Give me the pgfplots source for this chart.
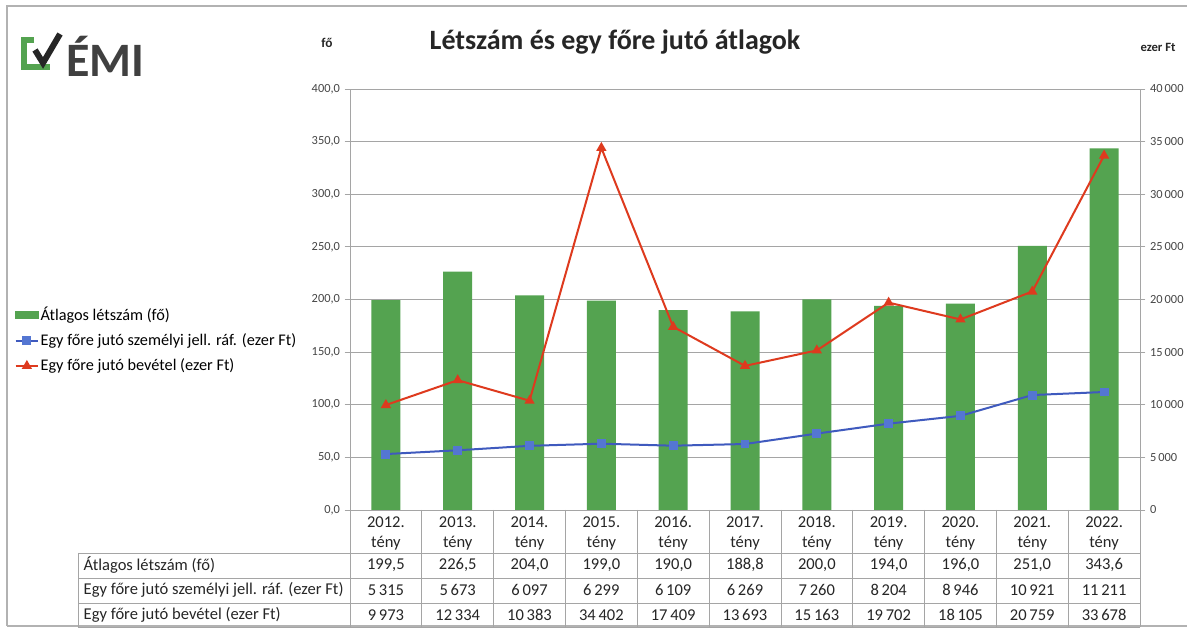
\documentclass[border=0pt]{standalone}
\usepackage{pgfplots}
\pgfplotsset{compat=1.18}
\usepackage{fontspec}
\setmainfont{Carlito}
\definecolor{barg}{RGB}{84,163,80}
\definecolor{lblue}{RGB}{63,90,190}
\definecolor{mblue}{RGB}{84,118,210}
\definecolor{lred}{RGB}{222,58,30}
\definecolor{tickc}{RGB}{70,70,70}
\definecolor{gridc}{RGB}{165,165,165}

\begin{document}
\begin{tikzpicture}[x=0.75pt,y=0.75pt]
% page frame (1 unit = 1 px of the reference)
\fill[white] (0,0) rectangle (1189,628);
\draw[gray!60, line width=1.5pt] (7,2) -- (7,622) -- (1187,622);
\draw[gray!60, line width=1.5pt] (7,2) -- (1187,2);

% logo
\draw[barg, line width=4.5pt] (34,588) -- (24,588) -- (24,561) -- (50,561);
\draw[black!85, line width=4.5pt, line join=miter] (35,578) -- (43,565) -- (60,594);
\node[anchor=west, inner sep=0pt, font=\fontsize{36}{36}\selectfont\bfseries, text=black!75] at (66,572) {ÉMI};

% titles
\node[font=\fontsize{21}{24}\selectfont\bfseries, text=black!85] at (615,586) {Létszám és egy főre jutó átlagok};
\node[font=\fontsize{10}{12}\selectfont\bfseries, text=black!85] at (327,585) {fő};
\node[font=\fontsize{9.5}{11}\selectfont\bfseries, text=black!85] at (1158,581) {ezer Ft};

\begin{axis}[
  at={(262.5pt,88.5pt)}, anchor=south west,
  scale only axis, width=592.5pt, height=315.75pt,
  xmin=-0.5, xmax=10.5, ymin=0, ymax=400,
  axis x line=none, axis y line*=left,
  ytick={0,50,...,400},
  ymajorgrids, grid style={gridc, line width=0.6pt},
  axis line style={gridc, line width=0.6pt},
  tick style={gridc, line width=0.6pt},
  tick align=outside, major tick length=4pt,
  yticklabel style={font=\fontsize{9.3}{10}\selectfont, text=tickc,
    /pgf/number format/.cd, fixed, fixed zerofill, precision=1, use comma, assume math mode=true},
  ybar, bar width=21.75pt,
]
  \addplot[fill=barg, draw=none] coordinates {
    (0,199.5) (1,226.5) (2,204.0) (3,199.0) (4,190.0) (5,188.8)
    (6,200.0) (7,194.0) (8,196.0) (9,251.0) (10,343.6)
  };
\end{axis}

\begin{axis}[
  at={(262.5pt,88.5pt)}, anchor=south west,
  scale only axis, width=592.5pt, height=315.75pt,
  xmin=-0.5, xmax=10.5, ymin=0, ymax=40000,
  axis x line=none, axis y line*=right,
  ytick={0,5000,...,40000}, scaled y ticks=false,
  axis line style={gridc, line width=0.6pt},
  tick style={gridc, line width=0.6pt},
  tick align=outside, major tick length=4pt,
  yticklabel style={font=\fontsize{9.3}{10}\selectfont, text=tickc,
    /pgf/number format/.cd, fixed, 1000 sep={\,}, assume math mode=true},
  legend style={at={(-0.425,0.404)}, anchor=west, draw=none, fill=none,
    font=\fontsize{12.2}{14}\selectfont, row sep=4.5pt, inner sep=0pt,
    nodes={inner xsep=1pt}},
  legend cell align=left,
]
  \addlegendimage{area legend, fill=barg, draw=barg}
  \addlegendentry{Átlagos létszám (fő)}
  \addplot[lblue, line width=1.5pt, mark=square*, mark size=2.6pt,
    mark options={fill=mblue, draw=mblue}] coordinates {
    (0,5315) (1,5673) (2,6097) (3,6299) (4,6109) (5,6269)
    (6,7260) (7,8204) (8,8946) (9,10921) (10,11211)
  };
  \addlegendentry{Egy főre jutó személyi jell. ráf. (ezer Ft)}
  \addplot[lred, line width=1.5pt, mark=triangle*, mark size=3pt,
    mark options={fill=lred}] coordinates {
    (0,9973) (1,12334) (2,10383) (3,34402) (4,17409) (5,13693)
    (6,15163) (7,19702) (8,18105) (9,20759) (10,33678)
  };
  \addlegendentry{Egy főre jutó bevétel (ezer Ft)}
\end{axis}

% data table below the plot
\begin{scope}[gridc, line width=0.6pt]
  \foreach \yy in {75,50,25,1} \draw (78,\yy) -- (1140,\yy);
  \draw (78,75) -- (78,1);
  \foreach \k in {0,...,11} \draw ({350+71.818*\k},118) -- ({350+71.818*\k},1);
\end{scope}
\begin{scope}[font=\fontsize{12.4}{14}\selectfont, text=black!85]
  \node[anchor=west] at (79,63) {Átlagos létszám (fő)};
  \node[anchor=west] at (79,38) {Egy főre jutó személyi jell. ráf. (ezer Ft)};
  \node[anchor=west] at (79,13) {Egy főre jutó bevétel (ezer Ft)};
  \foreach \yr [count=\i from 0] in {2012,2013,2014,2015,2016,2017,2018,2019,2020,2021,2022} {
    \node at ({350+71.818*(\i+0.5)},106) {\yr.};
    \node at ({350+71.818*(\i+0.5)},85) {tény};
  }
  \foreach \v [count=\i from 0] in {{199,5},{226,5},{204,0},{199,0},{190,0},{188,8},{200,0},{194,0},{196,0},{251,0},{343,6}}
    \node at ({350+71.818*(\i+0.5)},63) {\v};
  \foreach \v [count=\i from 0] in {5\,315,5\,673,6\,097,6\,299,6\,109,6\,269,7\,260,8\,204,8\,946,10\,921,11\,211}
    \node at ({350+71.818*(\i+0.5)},38) {\v};
  \foreach \v [count=\i from 0] in {9\,973,12\,334,10\,383,34\,402,17\,409,13\,693,15\,163,19\,702,18\,105,20\,759,33\,678}
    \node at ({350+71.818*(\i+0.5)},13) {\v};
\end{scope}
\end{tikzpicture}
\end{document}
